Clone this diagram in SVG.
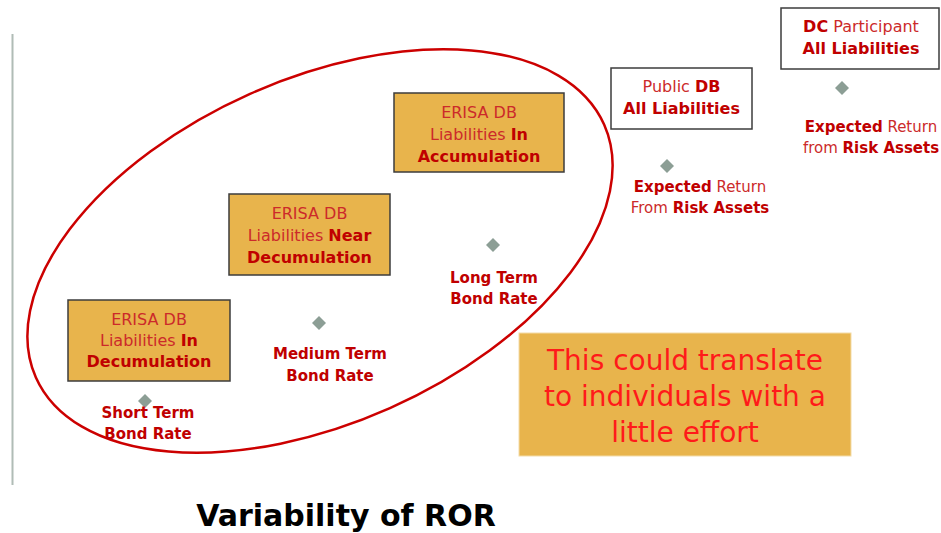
<svg xmlns="http://www.w3.org/2000/svg" width="941" height="533" viewBox="0 0 941 533">
<defs>
<style>
text{font-family:"DejaVu Sans","Liberation Sans",sans-serif;text-anchor:middle}
.lbl{font-size:15px;fill:#c00000;font-weight:bold}
.bx{font-size:16px;fill:#c00000}
.r{font-weight:normal;fill:#cc2a2a}
.b{font-weight:bold;fill:#c00000}
.ob{fill:#e8b44c;stroke:#3c3c3c;stroke-width:1.5}
.wb{fill:#ffffff;stroke:#3c3c3c;stroke-width:1.5}
.dm{fill:#8c9e95}
</style>
</defs>
<rect width="941" height="533" fill="#ffffff"/>
<line x1="12.5" y1="34" x2="12.5" y2="485" stroke="#b0bcb6" stroke-width="2"/>
<g id="connectors"></g>
<ellipse id="ellipse" cx="320" cy="251" rx="311" ry="172" transform="rotate(-24 320 251)" fill="none" stroke="#cc0000" stroke-width="2.5"/>

<g id="erisa-accum">
<rect class="ob" x="394" y="93" width="170" height="79"/>
<text class="bx" x="479" y="118"><tspan class="r">ERISA DB</tspan></text>
<text class="bx" x="479" y="140"><tspan class="r">Liabilities </tspan><tspan class="b">In</tspan></text>
<text class="bx" x="479" y="162"><tspan class="b">Accumulation</tspan></text>
</g>
<g id="erisa-near">
<rect class="ob" x="229" y="194" width="161" height="81"/>
<text class="bx" x="309.5" y="219"><tspan class="r">ERISA DB</tspan></text>
<text class="bx" x="309.5" y="241"><tspan class="r">Liabilities </tspan><tspan class="b">Near</tspan></text>
<text class="bx" x="309.5" y="263"><tspan class="b">Decumulation</tspan></text>
</g>
<g id="erisa-decum">
<rect class="ob" x="68" y="300" width="162" height="81"/>
<text class="bx" x="149" y="325"><tspan class="r">ERISA DB</tspan></text>
<text class="bx" x="149" y="346"><tspan class="r">Liabilities </tspan><tspan class="b">In</tspan></text>
<text class="bx" x="149" y="367"><tspan class="b">Decumulation</tspan></text>
</g>
<g id="public-db">
<rect class="wb" x="611" y="68" width="141" height="61"/>
<text class="bx" x="681.5" y="92"><tspan class="r">Public </tspan><tspan class="b">DB</tspan></text>
<text class="bx" x="681.5" y="114"><tspan class="b">All Liabilities</tspan></text>
</g>
<g id="dc-participant">
<rect class="wb" x="781" y="8" width="158" height="61"/>
<text class="bx" x="861" y="32"><tspan class="b">DC</tspan><tspan class="r"> Participant</tspan></text>
<text class="bx" x="861" y="54"><tspan class="b">All Liabilities</tspan></text>
</g>

<g id="short-term">
<path class="dm" d="M145 394 L152 401 L145 408 L138 401 Z"/>
<text class="lbl" x="148" y="418">Short Term</text>
<text class="lbl" x="148" y="439">Bond Rate</text>
</g>
<g id="medium-term">
<path class="dm" d="M319 316 L326 323 L319 330 L312 323 Z"/>
<text class="lbl" x="330" y="359">Medium Term</text>
<text class="lbl" x="330" y="381">Bond Rate</text>
</g>
<g id="long-term">
<path class="dm" d="M493 238 L500 245 L493 252 L486 245 Z"/>
<text class="lbl" x="494" y="283">Long Term</text>
<text class="lbl" x="494" y="304">Bond Rate</text>
</g>
<g id="public-return">
<path class="dm" d="M667 159 L674 166 L667 173 L660 166 Z"/>
<text class="lbl" x="700" y="192"><tspan class="b">Expected</tspan><tspan class="r"> Return</tspan></text>
<text class="lbl" x="700" y="213"><tspan class="r">From </tspan><tspan class="b">Risk Assets</tspan></text>
</g>
<g id="dc-return">
<path class="dm" d="M842 81 L849 88 L842 95 L835 88 Z"/>
<text class="lbl" x="871" y="132"><tspan class="b">Expected</tspan><tspan class="r"> Return</tspan></text>
<text class="lbl" x="871" y="153"><tspan class="r">from </tspan><tspan class="b">Risk Assets</tspan></text>
</g>

<g id="note">
<rect x="519" y="333" width="332" height="123" fill="#e8b44c" stroke="#f3dca8" stroke-width="1"/>
<text x="685" y="370" style="font-size:28px;fill:#ff1a1a">This could translate</text>
<text x="685" y="406" style="font-size:28px;fill:#ff1a1a">to individuals with a</text>
<text x="685" y="442" style="font-size:28px;fill:#ff1a1a">little effort</text>
</g>

<g id="title">
<text x="346" y="526" style="font-size:30px;font-weight:bold;fill:#000000">Variability of ROR</text>
</g>
</svg>
